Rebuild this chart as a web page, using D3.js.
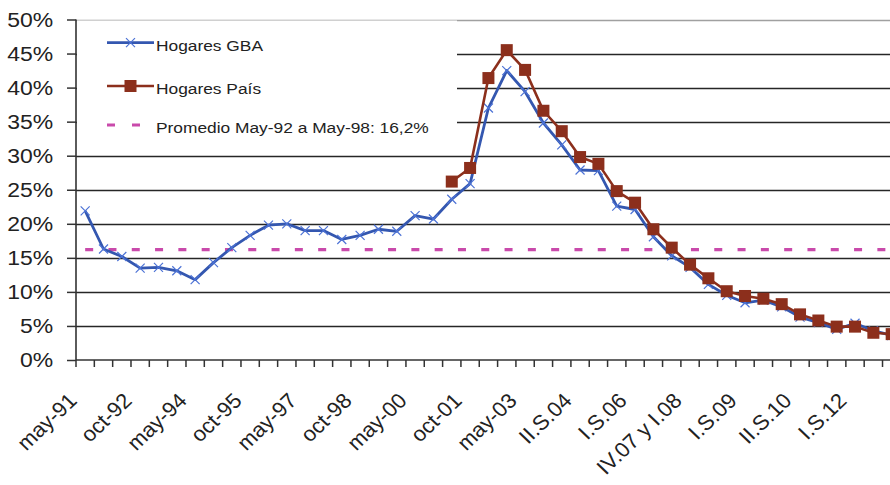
<!DOCTYPE html>
<html>
<head>
<meta charset="utf-8">
<script src="https://cdn.jsdelivr.net/npm/d3@7"></script>
<style>
  body { margin: 0; background: #fff; }
  svg { display: block; }
  text { font-family: "Liberation Sans", Arial, sans-serif; fill: #222; }
</style>
</head>
<body>
<svg id="chart" width="890" height="485"></svg>
<script>
// Survey periods (EPH waves, then semesters)
const categories = [
  "may-91", "oct-91", "may-92", "oct-92", "may-93", "oct-93", "may-94", "oct-94",
  "may-95", "oct-95", "may-96", "oct-96", "may-97", "oct-97", "may-98", "oct-98",
  "may-99", "oct-99", "may-00", "oct-00", "may-01", "oct-01", "may-02", "oct-02",
  "may-03", "II.S.03", "I.S.04", "II.S.04", "I.S.05", "II.S.05", "I.S.06", "II.S.06",
  "I.S.07", "IV.07 y I.08", "II.S.08", "IV.08", "I.S.09", "II.S.09", "I.S.10", "II.S.10",
  "I.S.11", "II.S.11", "I.S.12", "II.S.12", "I.S.13"
];

// Periods that carry a label on the horizontal axis
const tickLabels = [
  "may-91", "oct-92", "may-94", "oct-95", "may-97", "oct-98", "may-00", "oct-01",
  "may-03", "II.S.04", "I.S.06", "IV.07 y I.08", "I.S.09", "II.S.10", "I.S.12"
];

// Households below the poverty line, %
const hogaresGBA = [
  21.9, 16.3, 15.2, 13.5, 13.6, 13.1, 11.8, 14.3, 16.5, 18.3, 19.8, 20.0,
  19.0, 19.0, 17.7, 18.3, 19.2, 18.9, 21.2, 20.7, 23.6, 25.9, 37.0, 42.5,
  39.4, 34.8, 31.6, 27.9, 27.8, 22.6, 22.1, 18.1, 15.3, 13.6, 11.1, 9.5,
  8.4, 8.8, 7.8, 6.3, 5.5, 4.5, 5.4, 4.3, 3.6
];

const hogaresPais = [
  null, null, null, null, null, null, null, null, null, null, null, null,
  null, null, null, null, null, null, null, null, 26.2, 28.2, 41.4, 45.5,
  42.6, 36.6, 33.6, 29.8, 28.8, 24.8, 23.1, 19.2, 16.5, 14.0, 12.0, 10.1,
  9.4, 9.0, 8.2, 6.7, 5.8, 4.9, 4.9, 4.0, 3.8
];

// Average May-92 to May-98
const promedio = 16.2;

const yTicks = [0, 5, 10, 15, 20, 25, 30, 35, 40, 45, 50];

const legendItems = [
  { key: "gba", label: "Hogares GBA" },
  { key: "pais", label: "Hogares País" },
  { key: "prom", label: "Promedio May-92 a May-98: 16,2%" }
];

const COL_GBA = "#3457b0";
const COL_GBA_MARK = "#4d73d6";
const COL_PAIS = "#8c2f1c";
const COL_PROM = "#c94aab";
const STRETCH = 1.12;

const svg = d3.select("#chart");
svg.append("rect").attr("width", 890).attr("height", 485).attr("fill", "#fff");

const plotLeft = 76, plotTop = 19.5, plotBottom = 360;
const step = 18.33;

const x = d3.scaleBand().domain(categories).range([plotLeft, plotLeft + step * categories.length]).padding(0);
const y = d3.scaleLinear().domain([0, 50]).range([plotBottom, plotTop]);
const cx = d => x(d) + x.bandwidth() / 2;

// Horizontal gridlines
svg.append("g").selectAll("line")
  .data(yTicks.filter(t => t > 0))
  .join("line")
  .attr("x1", plotLeft).attr("x2", 890)
  .attr("y1", d => Math.round(y(d)) + 0.5).attr("y2", d => Math.round(y(d)) + 0.5)
  .attr("stroke", d => d === 50 ? "#a0a0a0" : "#262626")
  .attr("stroke-width", d => d === 50 ? 1.5 : 1.4);

// Legend background hides the gridlines behind it
svg.append("rect").attr("x", plotLeft + 1).attr("y", plotTop + 1).attr("width", 380).attr("height", 120).attr("fill", "#fff");

// Axes
const yAxis = d3.axisLeft(y).tickValues(yTicks).tickSize(9).tickPadding(14).tickFormat(d => d + "%");
const gy = svg.append("g").attr("transform", `translate(${plotLeft},0)`).call(yAxis);
gy.select(".domain").remove();
gy.selectAll(".tick line").attr("stroke", "#333").attr("stroke-width", 1.5);
gy.selectAll(".tick text")
  .attr("font-size", 20.5).attr("fill", "#222")
  .attr("font-family", '"Liberation Sans", Arial, sans-serif')
  .attr("transform", `translate(-24,0) scale(${STRETCH},1) translate(24,0)`);

svg.append("line").attr("x1", plotLeft).attr("x2", plotLeft).attr("y1", plotTop).attr("y2", plotBottom)
  .attr("stroke", "#333").attr("stroke-width", 1.6);
svg.append("line").attr("x1", plotLeft).attr("x2", 890).attr("y1", plotBottom).attr("y2", plotBottom)
  .attr("stroke", "#333").attr("stroke-width", 1.6);

// Tick marks between categories
const boundaries = categories.map(c => x(c)).concat([x(categories[categories.length - 1]) + x.bandwidth()]);
svg.append("g").selectAll("line").data(boundaries).join("line")
  .attr("x1", d => d).attr("x2", d => d).attr("y1", plotBottom).attr("y2", plotBottom + 7)
  .attr("stroke", "#333").attr("stroke-width", 1.5);

// Rotated category labels
svg.append("g").selectAll("text")
  .data(categories.filter(c => tickLabels.includes(c)))
  .join("text")
  .attr("text-anchor", "end")
  .attr("font-size", 21)
  .attr("transform", d => `translate(${cx(d) - 7},402) scale(1.05,1) rotate(-45)`)
  .text(d => d);

// Average line
svg.append("line")
  .attr("x1", cx(categories[0])).attr("x2", cx(categories[categories.length - 1]))
  .attr("y1", y(promedio)).attr("y2", y(promedio))
  .attr("stroke", COL_PROM).attr("stroke-width", 3.2).attr("stroke-dasharray", "8,15.3");

// Series lines
const line = d3.line()
  .defined(d => d.v != null)
  .x(d => cx(d.c)).y(d => y(d.v));

const gbaData = categories.map((c, i) => ({ c, v: hogaresGBA[i] }));
const paisData = categories.map((c, i) => ({ c, v: hogaresPais[i] })).filter(d => d.v != null);

const crossPath = "M-4.5,-4.5L4.5,4.5M-4.5,4.5L4.5,-4.5";

svg.append("path").datum(gbaData).attr("d", line)
  .attr("fill", "none").attr("stroke", COL_GBA).attr("stroke-width", 2.8).attr("stroke-linejoin", "round");
svg.append("g").selectAll("path").data(gbaData).join("path")
  .attr("transform", d => `translate(${cx(d.c)},${y(d.v)})`)
  .attr("d", crossPath).attr("stroke", COL_GBA_MARK).attr("stroke-width", 1.2).attr("fill", "none");

svg.append("path").datum(paisData).attr("d", line)
  .attr("fill", "none").attr("stroke", COL_PAIS).attr("stroke-width", 2.6).attr("stroke-linejoin", "round");
svg.append("g").selectAll("rect").data(paisData).join("rect")
  .attr("x", d => cx(d.c) - 6).attr("y", d => y(d.v) - 6)
  .attr("width", 12).attr("height", 12).attr("fill", COL_PAIS);

// Legend
const lg = svg.append("g");
const rowsY = [42.7, 86, 125];
legendItems.forEach((it, i) => {
  const ly = rowsY[i];
  if (it.key === "gba") {
    lg.append("line").attr("x1", 107).attr("x2", 154).attr("y1", ly).attr("y2", ly)
      .attr("stroke", COL_GBA).attr("stroke-width", 2.8);
    lg.append("path").attr("transform", `translate(130.5,${ly})`).attr("d", crossPath)
      .attr("stroke", COL_GBA_MARK).attr("stroke-width", 1.2).attr("fill", "none");
  } else if (it.key === "pais") {
    lg.append("line").attr("x1", 107).attr("x2", 154).attr("y1", ly).attr("y2", ly)
      .attr("stroke", COL_PAIS).attr("stroke-width", 2.6);
    lg.append("rect").attr("x", 124.5).attr("y", ly - 6).attr("width", 12).attr("height", 12).attr("fill", COL_PAIS);
  } else {
    lg.append("line").attr("x1", 107).attr("x2", 154).attr("y1", ly).attr("y2", ly)
      .attr("stroke", COL_PROM).attr("stroke-width", 3.2).attr("stroke-dasharray", "8,17");
  }
  lg.append("text")
    .attr("transform", `translate(156,${ly + 8}) scale(${STRETCH},1)`)
    .attr("font-size", 15.5)
    .text(it.label);
});
</script>
</body>
</html>
